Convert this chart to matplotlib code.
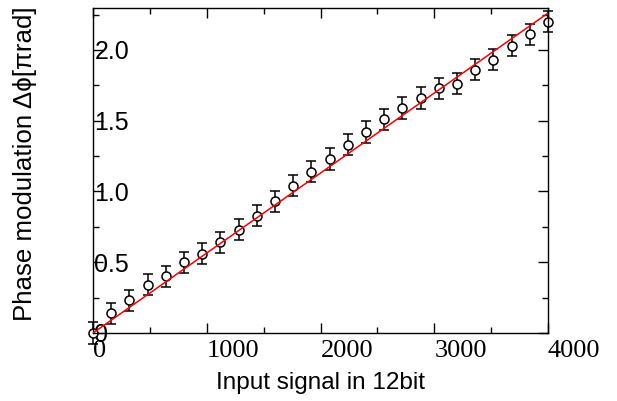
import numpy as np
import matplotlib.pyplot as plt
from matplotlib.ticker import MultipleLocator

# input signal (12 bit) and measured phase modulation
signal = [0, 160, 320, 480, 640, 800, 960, 1120, 1280, 1440, 1600, 1760, 1920,
          2080, 2240, 2400, 2560, 2720, 2880, 3040, 3200, 3360, 3520, 3680,
          3840, 4000]
phase = [0.0, 0.14, 0.23, 0.34, 0.40, 0.50, 0.56, 0.64, 0.73, 0.83, 0.93, 1.04,
         1.14, 1.23, 1.33, 1.42, 1.51, 1.59, 1.66, 1.73, 1.76, 1.86, 1.93, 2.03,
         2.11, 2.20]
phase_err = [0.075] * len(signal)

# linear fit
fit_x = [0, 4000]
fit_y = [0.0, 2.26]

xticks = [0, 1000, 2000, 3000, 4000]
yticks = [0, 0.5, 1.0, 1.5, 2.0]
ytick_labels = ['0', '0.5', '1.0', '1.5', '2.0']

fig = plt.figure(figsize=(6.17, 4.01), dpi=100)
ax = fig.add_axes([93/617, 1-333/401, 455/617, 325/401])

ax.errorbar(signal, phase, yerr=phase_err, fmt='o', color='black',
            mfc='white', mec='black', ms=6.5, mew=1.1, elinewidth=1.1,
            capsize=3.5, capthick=1.1, clip_on=False, zorder=2)
ax.plot(fit_x, fit_y, color='red', lw=1.1, zorder=3)

ax.set_xlim(0, 4000)
ax.set_ylim(0, 2.296)

ax.set_xticks(xticks)
ax.set_xticklabels([str(t) for t in xticks], family='Liberation Serif',
                   fontsize=19, ha='left')
ax.xaxis.set_minor_locator(MultipleLocator(500))
ax.set_yticks(yticks)
ax.set_yticklabels(ytick_labels, family='Liberation Sans', fontsize=18,
                   ha='left')
ax.yaxis.set_minor_locator(MultipleLocator(0.25))

ax.tick_params(which='both', direction='in', top=True, right=True, width=1)
ax.tick_params(which='major', length=7)
ax.tick_params(which='minor', length=4)
ax.tick_params(axis='x', which='major', pad=5)
ax.tick_params(axis='y', which='major', pad=-1)
for s in ax.spines.values():
    s.set_linewidth(1)

ax.set_xlabel('Input signal in 12bit', family='Liberation Sans', fontsize=17.5,
              labelpad=7)
ax.set_ylabel('Phase modulation \u0394\u03d5[\u03c0rad]',
              family=['Liberation Sans', 'DejaVu Sans'], fontsize=18.6)
ax.yaxis.set_label_coords(-0.122, 0.52)

fig.savefig('out.png', dpi=100)
